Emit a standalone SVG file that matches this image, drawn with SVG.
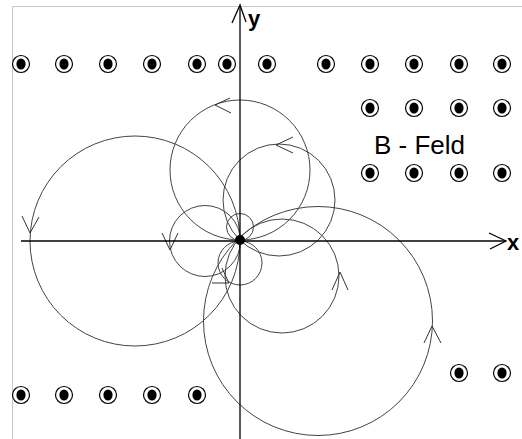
<svg xmlns="http://www.w3.org/2000/svg" xmlns:xlink="http://www.w3.org/1999/xlink" width="522" height="439" viewBox="0 0 522 439">
<style>
.frame{fill:none;stroke:#c8c8c8;stroke-width:1}
.axis{fill:none;stroke:#000;stroke-width:1.3}
.orbit{fill:none;stroke:#444;stroke-width:1}
.head{fill:none;stroke:#333;stroke-width:1}
.lbl{font-family:"Liberation Sans",Arial,sans-serif;fill:#000}
.bold{font-weight:bold;font-size:22px}
</style>
<defs>
<g id="bdot">
<circle r="8.5" fill="#fff" stroke="#000" stroke-width="1.2"/>
<ellipse rx="4.6" ry="5.6" fill="#000"/>
</g>
</defs>
<rect width="522" height="439" fill="#fff"/>
<rect class="frame" x="12.5" y="6.5" width="520" height="440"/>

<g id="field">
<use xlink:href="#bdot" x="21" y="64"/>
<use xlink:href="#bdot" x="64" y="64"/>
<use xlink:href="#bdot" x="108" y="64"/>
<use xlink:href="#bdot" x="152" y="64"/>
<use xlink:href="#bdot" x="197" y="64"/>
<use xlink:href="#bdot" x="227" y="64"/>
<use xlink:href="#bdot" x="267" y="64"/>
<use xlink:href="#bdot" x="326" y="64"/>
<use xlink:href="#bdot" x="370" y="64"/>
<use xlink:href="#bdot" x="414" y="64"/>
<use xlink:href="#bdot" x="459" y="64"/>
<use xlink:href="#bdot" x="502" y="64"/>
<use xlink:href="#bdot" x="370" y="108"/>
<use xlink:href="#bdot" x="414" y="108"/>
<use xlink:href="#bdot" x="459" y="108"/>
<use xlink:href="#bdot" x="502" y="108"/>
<use xlink:href="#bdot" x="370" y="173"/>
<use xlink:href="#bdot" x="414" y="173"/>
<use xlink:href="#bdot" x="459" y="173"/>
<use xlink:href="#bdot" x="502" y="173"/>
<use xlink:href="#bdot" x="459" y="373"/>
<use xlink:href="#bdot" x="502" y="373"/>
<use xlink:href="#bdot" x="21" y="395"/>
<use xlink:href="#bdot" x="64" y="395"/>
<use xlink:href="#bdot" x="108" y="395"/>
<use xlink:href="#bdot" x="152" y="395"/>
<use xlink:href="#bdot" x="197" y="395"/>
</g>

<g id="orbits">
<circle class="orbit" cx="135" cy="241" r="105"/>
<circle class="orbit" cx="240" cy="170" r="70"/>
<circle class="orbit" cx="279" cy="200" r="56"/>
<circle class="orbit" cx="282" cy="276" r="57"/>
<circle class="orbit" cx="318" cy="321" r="114.5"/>
<circle class="orbit" cx="205" cy="241" r="35.5"/>
<circle class="orbit" cx="240" cy="227" r="13.5"/>
<circle class="orbit" cx="240" cy="263" r="22"/>
</g>

<g id="arrowheads">
<polyline class="head" points="22,216 30,233 39,217"/>
<polyline class="head" points="230,98 215,105 231,113"/>
<polyline class="head" points="293,137 276,145 293,153"/>
<polyline class="head" points="332,290 340,272 348,290"/>
<polyline class="head" points="424,343 432,326 441,343"/>
<polyline class="head" points="162,233 170,250 178,233"/>
<polyline class="head" points="212,283 229,283 222,268"/>
</g>

<g id="axes">
<line class="axis" x1="21" y1="241" x2="506" y2="241"/>
<polyline class="axis" points="489,233 506,241 490,249"/>
<line class="axis" x1="240" y1="5" x2="240" y2="439"/>
<polyline class="axis" points="232,23 240,5 246,22"/>
<circle cx="240" cy="240" r="5" fill="#000"/>
</g>

<g id="labels">
<text class="lbl bold" x="248" y="26">y</text>
<text class="lbl bold" x="507" y="250">x</text>
<text class="lbl" x="374" y="154" font-size="26">B - Feld</text>
</g>
</svg>
